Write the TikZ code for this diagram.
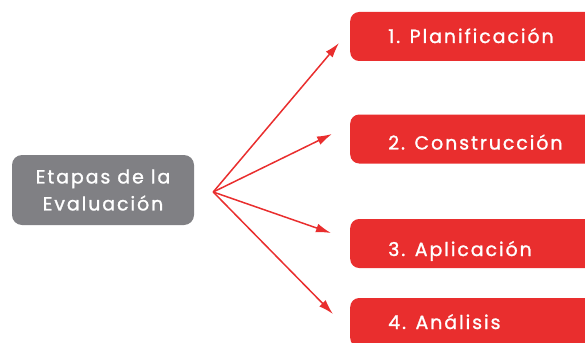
\documentclass[tikz,border=0pt]{standalone}
\usepackage{fontspec}
\newfontfamily\stagefont[LetterSpace=10,FakeBold=1.2]{Poppins}
\usetikzlibrary{arrows.meta,positioning,calc}
\definecolor{stagered}{RGB}{233,46,46}
\definecolor{stagegrey}{RGB}{128,128,132}
\begin{document}
\begin{tikzpicture}[x=1pt,y=-1pt,>={Latex[length=15pt,width=9pt]},line join=round,
	font=\stagefont\fontsize{19}{27}\selectfont,
	mainbox/.style={fill=stagegrey,text=white,rounded corners=10pt,minimum width=182pt,minimum height=70pt,align=center,inner sep=0pt},
	stagebox/.style={fill=stagered,text=white,rounded corners=9pt,minimum height=49pt,text width=250pt,align=left,inner xsep=38pt,inner ysep=0pt,text height=17pt,text depth=4pt,anchor=west},
	link/.style={draw=stagered,line width=1.5pt,->}]
	\useasboundingbox (0,0) rectangle (585,342);
	\clip (0,0) rectangle (585,342);
	\node[mainbox] (eval) at (103,190) {Etapas de la\\Evaluación};
	\node[stagebox] (plan) at (350,36.5) {1. Planificación};
	\node[stagebox,text height=25pt] (cons) at (350,139) {2. Construcción};
	\node[stagebox,text height=29pt] (apli) at (350,243.5) {3. Aplicación};
	\node[stagebox] (anal) at (350,322.5) {4. Análisis};
	% arrows
	\coordinate (hub) at ($(eval.east)+(19,2)$);
	\path
	(339,43) coordinate (tplan)
	(332,134) coordinate (tcons)
	(331,233) coordinate (tapli)
	(333,314) coordinate (tanal);
	\foreach \t in {tplan,tcons,tapli,tanal}
	\draw[link] (hub)--(\t);
\end{tikzpicture}
\end{document}
